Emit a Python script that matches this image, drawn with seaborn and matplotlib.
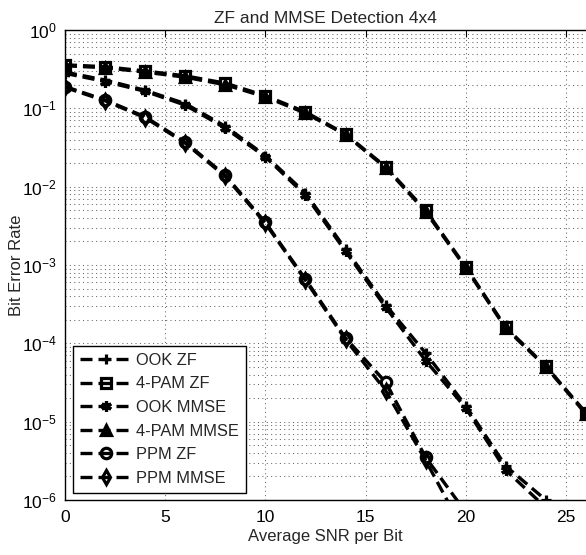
import numpy as np
import pandas as pd
import matplotlib
matplotlib.use("Agg")
import matplotlib.pyplot as plt
import seaborn as sns
from matplotlib.ticker import LogLocator, FixedLocator, NullFormatter, LogFormatterMathtext

# SNR grid (dB) and bit error rates for each detector / modulation
snr_db = [0, 2, 4, 6, 8, 10, 12, 14, 16, 18, 20, 22, 24, 26]

ook_zf = [0.29, 0.23, 0.17, 0.115, 0.059, 0.025, 0.0083, 0.0016, 3.1e-4, 7.5e-5, 1.6e-5, 2.7e-6, 1.0e-6]
pam4_zf = [0.36, 0.34, 0.30, 0.26, 0.21, 0.145, 0.090, 0.047, 0.018, 0.0050, 9.5e-4, 1.6e-4, 5.1e-5, 1.3e-5]
ook_mmse = [0.28, 0.22, 0.165, 0.11, 0.056, 0.024, 0.0078, 0.0015, 2.9e-4, 6.0e-5, 1.5e-5, 2.4e-6, 8.0e-7]
pam4_mmse = [0.35, 0.33, 0.29, 0.25, 0.20, 0.14, 0.087, 0.046, 0.0175, 0.0048, 9.2e-4, 1.55e-4, 5.0e-5, 1.25e-5]
ppm_zf = [0.19, 0.128, 0.078, 0.037, 0.014, 0.0035, 6.6e-4, 1.17e-4, 3.2e-5, 3.5e-6, 7.0e-7]
ppm_mmse = [0.185, 0.125, 0.076, 0.036, 0.0135, 0.0034, 6.4e-4, 1.12e-4, 2.5e-5, 3.2e-6, 3.6e-7]

series_names = ["OOK ZF", "4-PAM ZF", "OOK MMSE", "4-PAM MMSE", "PPM ZF", "PPM MMSE"]
series_values = [ook_zf, pam4_zf, ook_mmse, pam4_mmse, ppm_zf, ppm_mmse]
series_markers = ["+", "s", (6, 2, 0), "^", "o", "d"]

x_ticks = [0, 5, 10, 15, 20, 25]
y_ticks = [1e-6, 1e-5, 1e-4, 1e-3, 1e-2, 1e-1, 1e0]

frames = []
for name, vals in zip(series_names, series_values):
    frames.append(pd.DataFrame({"snr": snr_db[:len(vals)], "ber": vals, "series": name}))
data = pd.concat(frames, ignore_index=True)

sns.set_style("white")
plt.rcParams["font.family"] = ["Liberation Sans", "DejaVu Sans"]
plt.rcParams["mathtext.fontset"] = "custom"
plt.rcParams["mathtext.rm"] = "Liberation Sans"
plt.rcParams["mathtext.it"] = "Liberation Sans"
plt.rcParams["mathtext.default"] = "regular"

fig = plt.figure(figsize=(5.86, 5.55), dpi=100)
ax = fig.add_axes([0.1109, 0.0991, 0.889, 0.8468])

for name, marker in zip(series_names, series_markers):
    sub = data[data["series"] == name]
    filled_face = "k" if marker == "^" else "none"
    sns.lineplot(data=sub, x="snr", y="ber", ax=ax, color="k", linestyle="--",
                 linewidth=2.4, marker=marker, markersize=7.5, markeredgewidth=2.3,
                 markerfacecolor=filled_face, markeredgecolor="k", label=name,
                 legend=False, errorbar=None, dashes=False)
    # keep the long-dash pattern on every curve
    ax.lines[-1].set_linestyle("--")
    ax.lines[-1].set_dashes((3.6, 1.8))

ax.set_yscale("log")
ax.set_xlim(0, 26)
ax.set_ylim(1e-6, 1)

ax.xaxis.set_major_locator(FixedLocator(x_ticks))
ax.yaxis.set_major_locator(FixedLocator(y_ticks))
ax.yaxis.set_major_formatter(LogFormatterMathtext())
ax.yaxis.set_minor_locator(LogLocator(base=10, subs=np.arange(2, 10), numticks=20))
ax.yaxis.set_minor_formatter(NullFormatter())

grid_style = dict(color="#666666", linestyle=(0, (1, 3.2)), linewidth=0.75)
ax.grid(True, which="major", axis="both", **grid_style)
ax.grid(True, which="minor", axis="y", **grid_style)
ax.set_axisbelow(True)

ax.tick_params(axis="both", which="both", direction="in", top=True, right=False,
               labelsize=12.5, colors="k")
ax.tick_params(axis="x", which="major", pad=7)
ax.tick_params(axis="y", which="major", pad=6)
ax.tick_params(axis="both", which="major", length=5, width=0.8)
ax.tick_params(axis="y", which="minor", length=3, width=0.6)

for side in ["left", "bottom", "top"]:
    ax.spines[side].set_color("k")
    ax.spines[side].set_linewidth(1.0)
ax.spines["right"].set_visible(False)

ax.set_title("ZF and MMSE Detection 4x4", fontsize=12.5, pad=5)
ax.set_xlabel("Average SNR per Bit", fontsize=12)
ax.set_ylabel("Bit Error Rate", fontsize=12)
ax.xaxis.set_label_coords(0.5, -0.062)
ax.yaxis.set_label_coords(-0.079, 0.5)

leg = ax.legend(loc="lower left", bbox_to_anchor=(0.015, 0.015), fontsize=11.8,
                handlelength=3.1, handletextpad=0.3, labelspacing=0.52,
                borderpad=0.45, frameon=True, fancybox=False, framealpha=1.0,
                edgecolor="k", borderaxespad=0.0)
leg.get_frame().set_linewidth(1.0)

fig.savefig("out.png", dpi=100)
